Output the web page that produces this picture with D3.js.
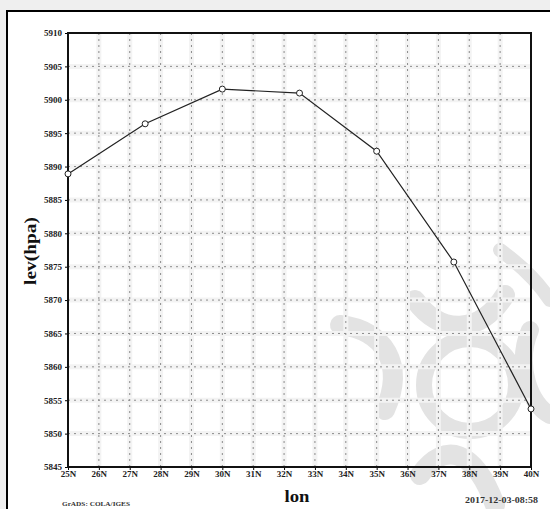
<!DOCTYPE html>
<html>
<head>
<meta charset="utf-8">
<script src="https://cdn.jsdelivr.net/npm/d3@7"></script>
<style>
  body { margin: 0; background: #efefef; }
  svg { display: block; }
  .tick text { font-family: "Liberation Serif", serif; font-weight: bold; font-size: 9px; fill: #222; }
</style>
</head>
<body>
<div id="chart"></div>
<script>
// data
var lonValues = [25, 27.5, 30, 32.5, 35, 37.5, 40];
var levValues = [5888.9, 5896.4, 5901.6, 5901.0, 5892.3, 5875.7, 5853.7];
var lonTicks = [25, 26, 27, 28, 29, 30, 31, 32, 33, 34, 35, 36, 37, 38, 39, 40];
var levTicks = [5845, 5850, 5855, 5860, 5865, 5870, 5875, 5880, 5885, 5890, 5895, 5900, 5905, 5910];

var svgWidth = 550, svgHeight = 509;
var plot = { left: 68, right: 531, top: 33, bottom: 467 };

var svg = d3.select("#chart").append("svg")
  .attr("width", svgWidth)
  .attr("height", svgHeight);

// page frame
svg.append("rect").attr("x", 0).attr("y", 0).attr("width", svgWidth).attr("height", svgHeight).attr("fill", "#efefef");
svg.append("rect").attr("x", 7).attr("y", 11).attr("width", svgWidth + 10).attr("height", svgHeight + 10)
  .attr("fill", "#fff").attr("stroke", "#000").attr("stroke-width", 2);

// faint watermark in the lower right
var wm = svg.append("g").attr("fill", "none").attr("stroke", "#e3e3e3").attr("stroke-linecap", "round");
wm.append("circle").attr("cx", 470).attr("cy", 385).attr("r", 46).attr("stroke-width", 16);
wm.append("path").attr("d", "M415,300 C440,335 480,335 505,295").attr("stroke-width", 20);
wm.append("path").attr("d", "M385,410 C405,365 385,330 340,325").attr("stroke-width", 20);
wm.append("path").attr("d", "M420,475 C445,440 475,450 495,505").attr("stroke-width", 20);
wm.append("path").attr("d", "M530,330 C515,365 530,405 550,415").attr("stroke-width", 18);
wm.append("path").attr("d", "M500,250 C525,268 542,288 550,300").attr("stroke-width", 14);

var x = d3.scaleLinear().domain([25, 40]).range([plot.left, plot.right]);
var y = d3.scaleLinear().domain([5845, 5910]).range([plot.bottom, plot.top]);

// grid: soft halo then dotted line
var gridX = lonTicks.slice(1, -1), gridY = levTicks.slice(1, -1);
var grid = svg.append("g");
grid.selectAll(".hx").data(gridX).enter().append("line")
  .attr("x1", d => x(d)).attr("x2", d => x(d)).attr("y1", plot.top).attr("y2", plot.bottom)
  .attr("stroke", "#f3f3f3").attr("stroke-width", 5);
grid.selectAll(".hy").data(gridY).enter().append("line")
  .attr("y1", d => y(d)).attr("y2", d => y(d)).attr("x1", plot.left).attr("x2", plot.right)
  .attr("stroke", "#f3f3f3").attr("stroke-width", 5);
grid.selectAll(".gx").data(gridX).enter().append("line")
  .attr("x1", d => x(d)).attr("x2", d => x(d)).attr("y1", plot.top).attr("y2", plot.bottom)
  .attr("stroke", "#8c8c8c").attr("stroke-width", 1).attr("stroke-dasharray", "2,4");
grid.selectAll(".gy").data(gridY).enter().append("line")
  .attr("y1", d => y(d)).attr("y2", d => y(d)).attr("x1", plot.left).attr("x2", plot.right)
  .attr("stroke", "#8c8c8c").attr("stroke-width", 1).attr("stroke-dasharray", "2,4");

// axes
var leftAxis = d3.axisLeft(y).tickValues(levTicks).tickSize(3).tickPadding(3).tickFormat(d3.format("d"));
var bottomAxis = d3.axisBottom(x).tickValues(lonTicks).tickSize(3).tickPadding(2).tickFormat(d => d + "N");

var yAxis = svg.append("g").attr("transform", `translate(${plot.left},0)`).call(leftAxis);
var xAxis = svg.append("g").attr("transform", `translate(0,${plot.bottom})`).call(bottomAxis);
[yAxis, xAxis].forEach(function(a) {
  a.select(".domain").remove();
  a.selectAll(".tick line").attr("stroke", "#000");
});
xAxis.selectAll(".tick text").attr("dy", "0.55em");

// plot border
svg.append("rect")
  .attr("x", plot.left).attr("y", plot.top)
  .attr("width", plot.right - plot.left).attr("height", plot.bottom - plot.top)
  .attr("fill", "none").attr("stroke", "#111").attr("stroke-width", 2);

// line + markers
var pts = lonValues.map((d, i) => [d, levValues[i]]);
svg.append("path").datum(pts)
  .attr("fill", "none").attr("stroke", "#222").attr("stroke-width", 1.2)
  .attr("d", d3.line().x(d => x(d[0])).y(d => y(d[1])));
svg.selectAll(".pt").data(pts).enter().append("circle")
  .attr("cx", d => x(d[0])).attr("cy", d => y(d[1])).attr("r", 3)
  .attr("fill", "#fff").attr("stroke", "#222").attr("stroke-width", 1);

// labels
svg.append("text")
  .attr("transform", "translate(36,251) rotate(-90)")
  .attr("text-anchor", "middle")
  .attr("font-family", "Liberation Serif, serif").attr("font-weight", "bold").attr("font-size", 17)
  .attr("textLength", 68).attr("lengthAdjust", "spacingAndGlyphs")
  .attr("fill", "#111").text("lev(hpa)");
svg.append("text")
  .attr("x", 297).attr("y", 502).attr("text-anchor", "middle")
  .attr("font-family", "Liberation Serif, serif").attr("font-weight", "bold").attr("font-size", 16)
  .attr("textLength", 25).attr("lengthAdjust", "spacingAndGlyphs")
  .attr("fill", "#111").text("lon");
svg.append("text")
  .attr("x", 62).attr("y", 506)
  .attr("font-family", "Liberation Serif, serif").attr("font-weight", "bold").attr("font-size", 7)
  .attr("textLength", 68).attr("lengthAdjust", "spacingAndGlyphs")
  .attr("fill", "#333").text("GrADS: COLA/IGES");
svg.append("text")
  .attr("x", 465).attr("y", 503)
  .attr("font-family", "Liberation Serif, serif").attr("font-weight", "bold").attr("font-size", 8)
  .attr("textLength", 73).attr("lengthAdjust", "spacingAndGlyphs")
  .attr("fill", "#333").text("2017-12-03-08:58");
</script>
</body>
</html>
